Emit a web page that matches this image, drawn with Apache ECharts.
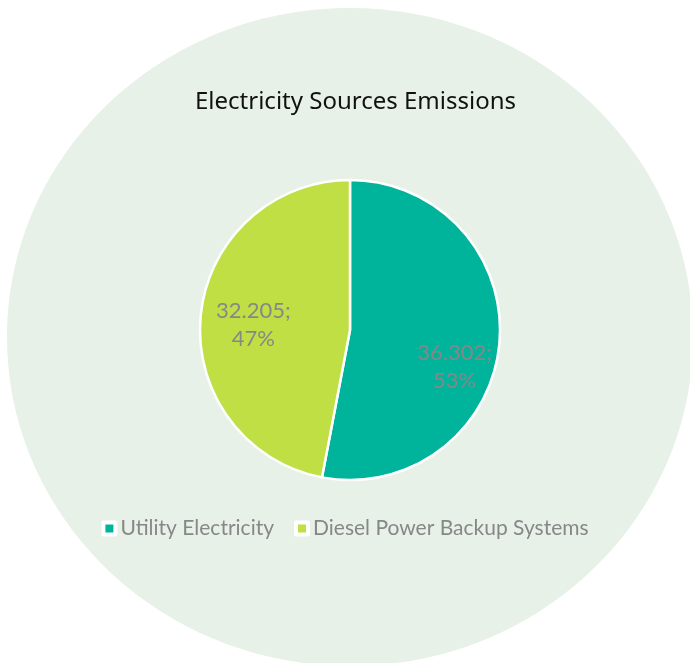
<!DOCTYPE html>
<html>
<head>
<meta charset="utf-8">
<style>
  html, body { margin: 0; padding: 0; background: #ffffff; }
  #chart { width: 690px; height: 663px; }
</style>
<script src="https://cdn.jsdelivr.net/npm/echarts@6/dist/echarts.min.js"></script>
</head>
<body>
<div id="chart"></div>
<script>
// Emission share per electricity source
const categories = ['Utility Electricity', 'Diesel Power Backup Systems'];
const emissions = [36.302, 32.205];
const sliceColors = ['#00B49B', '#BFDF44'];
const chartTitle = 'Electricity Sources Emissions';

const FONT = 'Lato';
const GREY = '#878787';

// Per-slice nudges of the inside labels
const labelShift = [{ dx: 27, dy: 30 }, { dx: -19, dy: 2 }];

const chart = echarts.init(document.getElementById('chart'), null, { renderer: 'canvas' });

chart.setOption({
  animation: false,
  backgroundColor: '#ffffff',
  color: sliceColors,
  graphic: [{
    type: 'ellipse',
    z: -10,
    silent: true,
    shape: { cx: 350, cy: 337, rx: 343, ry: 329 },
    style: { fill: '#E7F1E8' }
  }],
  title: {
    text: chartTitle,
    left: 190,
    top: 85,
    textStyle: { fontFamily: 'Noto Sans', fontSize: 24, fontWeight: 'normal', color: '#111111' }
  },
  legend: {
    data: categories,
    left: 'center',
    top: 513,
    icon: 'rect',
    itemWidth: 12,
    itemHeight: 12,
    itemGap: 20,
    itemStyle: { borderColor: '#ffffff', borderWidth: 4 },
    textStyle: { fontFamily: FONT, fontSize: 21, color: GREY }
  },
  series: [{
    type: 'pie',
    center: [350, 330],
    radius: [0, 150],
    startAngle: 90,
    clockwise: true,
    percentPrecision: 0,
    itemStyle: { borderColor: '#ffffff', borderWidth: 2.5 },
    label: {
      show: true,
      position: 'inside',
      formatter: '{c};\n{d}%',
      fontFamily: FONT,
      fontSize: 22,
      lineHeight: 28,
      color: GREY
    },
    labelLayout: function (p) { return labelShift[p.dataIndex]; },
    emphasis: { disabled: true },
    data: categories.map((name, i) => ({ name: name, value: emissions[i] }))
  }]
});
</script>
</body>
</html>
